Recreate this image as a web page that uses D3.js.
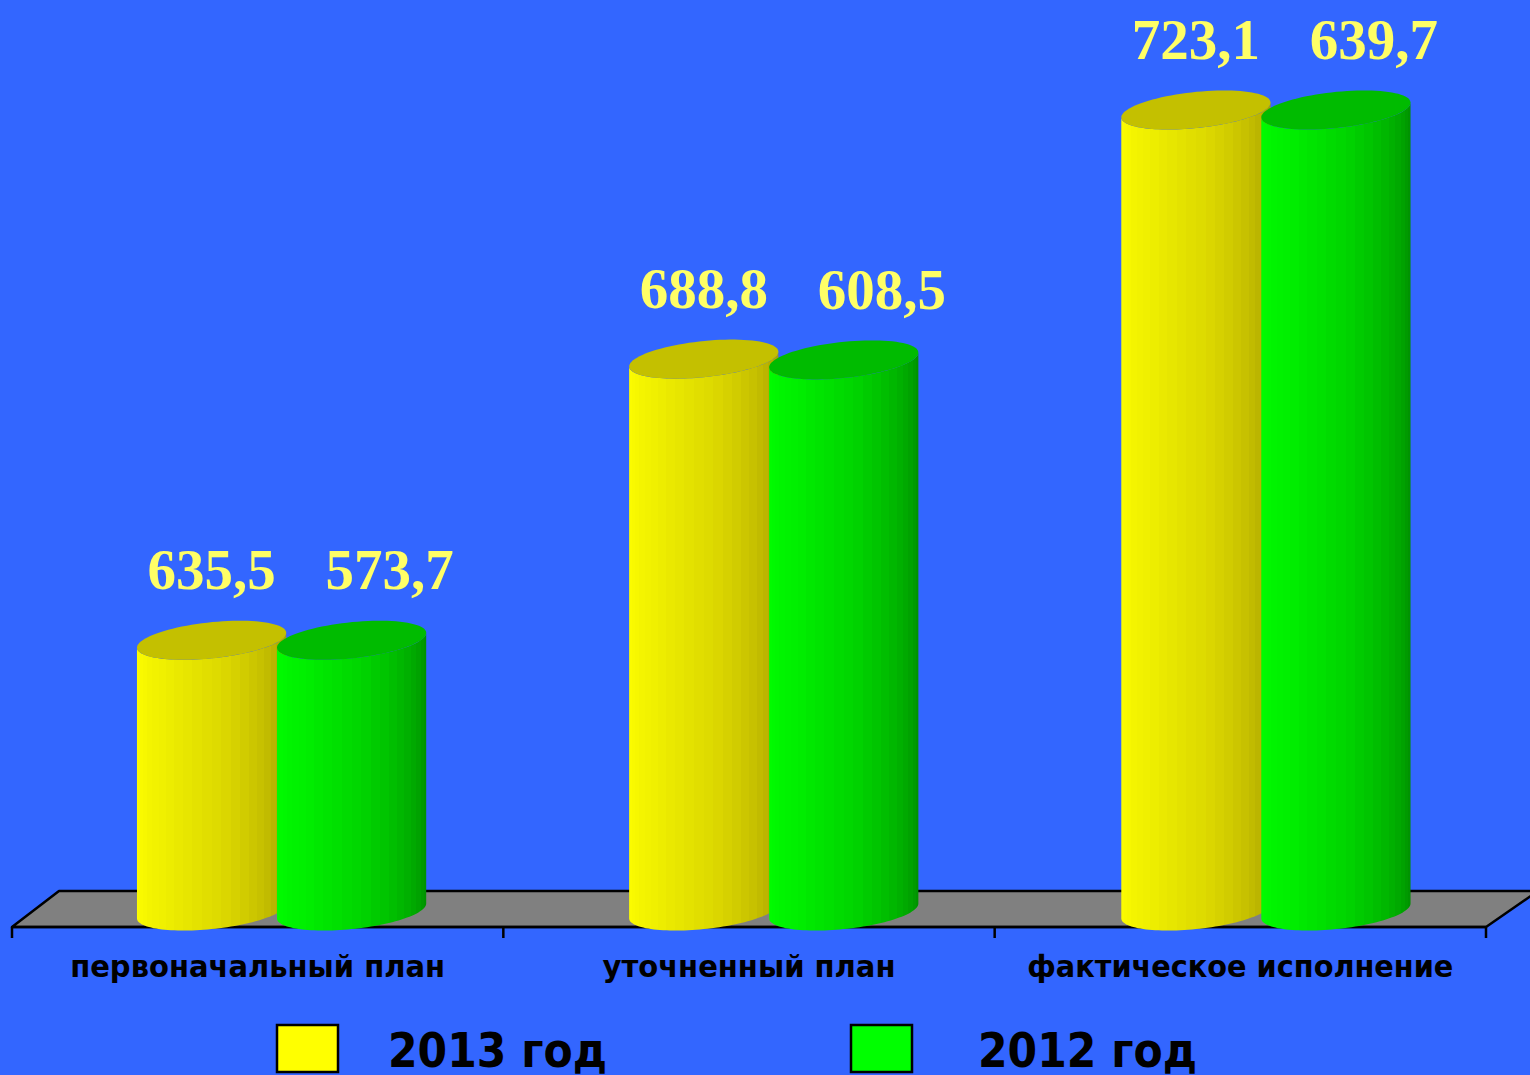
<!DOCTYPE html>
<html>
<head>
<meta charset="utf-8">
<script src="https://cdn.jsdelivr.net/npm/d3@7"></script>
<style>
  html, body { margin: 0; padding: 0; background: #3366FF; overflow: hidden; }
  svg { display: block; }
</style>
</head>
<body>
<svg id="chart" width="1530" height="1075"></svg>
<script>
// ---------- data ----------
const categories = ["первоначальный план", "уточненный план", "фактическое исполнение"];
const seriesNames = ["2013 год", "2012 год"];
const values2013 = ["635,5", "688,8", "723,1"];
const values2012 = ["573,7", "608,5", "639,7"];
// plotted heights of the columns (percent of the tallest)
const levels2013 = [33.8, 68.9, 100];
const levels2012 = [33.8, 68.8, 100];

// ---------- setup ----------
const W = 1530, H = 1075;
const svg = d3.select("#chart");
svg.append("rect").attr("width", W).attr("height", H).attr("fill", "#3366FF");

const x = d3.scaleBand().domain(categories).range([12, 1486]).padding(0);
const y = d3.scaleLinear().domain([0, 100]).range([911, 110]);

const frontY = 927, backY = 891;
const depthL = 47, depthR = 52;
const depthAt = xx => depthL + (depthR - depthL) * (xx - 12) / (1486 - 12);

// floor
const floor = [[12, frontY], [12 + depthL, backY], [1486 + depthR, backY], [1486, frontY]];
svg.append("path")
  .attr("d", d3.line()(floor) + "Z")
  .attr("fill", "#808080")
  .attr("stroke", "#000").attr("stroke-width", 2.5).attr("stroke-linejoin", "round");

// axis line + ticks at band boundaries
const tickXs = categories.map(c => x(c)).concat([x.range()[1]]);
svg.append("line").attr("x1", 12).attr("x2", 1486).attr("y1", frontY).attr("y2", frontY)
  .attr("stroke", "#000").attr("stroke-width", 2.5);
svg.selectAll(".tick").data(tickXs).join("line")
  .attr("x1", d => d).attr("x2", d => d).attr("y1", frontY).attr("y2", frontY + 11)
  .attr("stroke", "#000").attr("stroke-width", 2.5);

// category labels
const catWidths = [375, 293, 426];
svg.selectAll(".cat").data(categories).join("text")
  .attr("x", d => x(d) + x.bandwidth() / 2)
  .attr("y", 977)
  .attr("text-anchor", "middle")
  .attr("font-family", "DejaVu Sans, Verdana, sans-serif")
  .attr("font-weight", "bold")
  .attr("font-size", 31)
  .attr("textLength", (d, i) => catWidths[i])
  .attr("lengthAdjust", "spacingAndGlyphs")
  .attr("fill", "#000")
  .text(d => d);

// ---------- gradients ----------
const defs = svg.append("defs");
function facetGradient(id, stops) {
  const g = defs.append("linearGradient").attr("id", id)
    .attr("x1", 0).attr("x2", 1).attr("y1", 0).attr("y2", 0);
  const col = d3.scaleLinear().domain(stops.map(s => s[0])).range(stops.map(s => s[1]))
    .interpolate(d3.interpolateRgb);
  const N = 24;
  for (let k = 0; k < N; k++) {
    const a0 = Math.PI * k / N, a1 = Math.PI * (k + 1) / N;
    const p0 = (1 - Math.cos(a0)) / 2, p1 = (1 - Math.cos(a1)) / 2;
    const c = col((k + 0.5) / N);
    g.append("stop").attr("offset", p0).attr("stop-color", c);
    g.append("stop").attr("offset", p1).attr("stop-color", c);
  }
}
facetGradient("gY", [[0, "#ffff00"], [0.3, "#eeee00"], [0.55, "#dcd800"], [0.75, "#c4be00"], [1, "#a09800"]]);
facetGradient("gG", [[0, "#00ff00"], [0.3, "#00ee00"], [0.55, "#00d400"], [0.75, "#00b400"], [1, "#008800"]]);

const seriesStyle = [
  { grad: "url(#gY)", cap: "#c4c000", legend: "#ffff00", levels: levels2013, labels: values2013, dx: -70, ldx: 0, legX: 277, txtX: 388 },
  { grad: "url(#gG)", cap: "#00bb00", legend: "#00ff00", levels: levels2012, labels: values2012, dx: 70, ldx: 38, legX: 851, txtX: 978 }
];

// ---------- cylinders ----------
const RX = 75, RY = 18, TH = -6 * Math.PI / 180;
function ellPt(cx, cy, t) {
  return [cx + RX * Math.cos(t) * Math.cos(TH) - RY * Math.sin(t) * Math.sin(TH),
          cy + RX * Math.cos(t) * Math.sin(TH) + RY * Math.sin(t) * Math.cos(TH)];
}
function cylinder(g, cx, yTop, yBot, s) {
  const M = 90;
  const pts = d3.range(M + 1).map(i => (2 * Math.PI * i) / M);
  const tL = Math.PI + Math.atan2(-RY * Math.sin(TH), RX * Math.cos(TH));
  const tR = tL - Math.PI;
  const body = [];
  body.push(ellPt(cx, yTop, tL));
  const n = 60;
  for (let i = 0; i <= n; i++) {
    const t = tL - (tL - tR) * i / n;
    body.push(ellPt(cx, yBot, t));
  }
  for (let i = 0; i <= n; i++) {
    const t = tR + (tL - tR) * i / n;
    body.push(ellPt(cx, yTop, t));
  }
  g.append("path").attr("d", d3.line()(body) + "Z").attr("fill", s.grad);
  const cap = pts.map(t => ellPt(cx, yTop, t));
  g.append("path").attr("d", d3.line()(cap) + "Z").attr("fill", s.cap);
}

const barsG = svg.append("g");
categories.forEach((c, i) => {
  const bc = x(c) + x.bandwidth() / 2;
  const pc = bc + depthAt(bc) / 2;
  seriesStyle.forEach(s => {
    cylinder(barsG.append("g"), pc + s.dx, y(s.levels[i]), y(0), s);
  });
});

// value labels
categories.forEach((c, i) => {
  const bc = x(c) + x.bandwidth() / 2;
  const pc = bc + depthAt(bc) / 2;
  seriesStyle.forEach(s => {
    svg.append("text")
      .attr("x", pc + s.dx + s.ldx)
      .attr("y", y(s.levels[i]) - 51)
      .attr("text-anchor", "middle")
      .attr("font-family", "Liberation Serif, Times New Roman, serif")
      .attr("font-weight", "bold")
      .attr("font-size", 57)
      .attr("fill", "#ffff66")
      .text(s.labels[i]);
  });
});

// legend
const leg = svg.selectAll(".leg").data(seriesNames).join("g");
leg.append("rect").attr("x", (d, i) => seriesStyle[i].legX).attr("y", 1025).attr("width", 61).attr("height", 47)
  .attr("fill", (d, i) => seriesStyle[i].legend).attr("stroke", "#000").attr("stroke-width", 2.5);
leg.append("text").attr("x", (d, i) => seriesStyle[i].txtX).attr("y", 1067)
  .attr("font-family", "DejaVu Sans, Verdana, sans-serif")
  .attr("font-weight", "bold").attr("font-size", 48)
  .attr("textLength", 219).attr("lengthAdjust", "spacingAndGlyphs")
  .attr("fill", "#000").text(d => d);
</script>
</body>
</html>
